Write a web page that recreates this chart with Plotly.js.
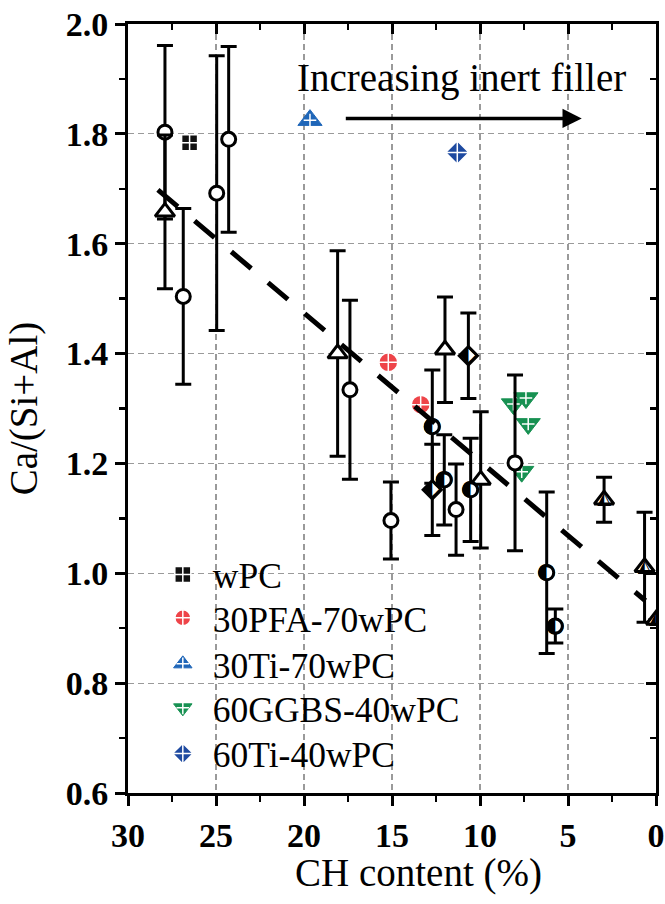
<!DOCTYPE html>
<html>
<head>
<meta charset="utf-8">
<script src="https://cdn.plot.ly/plotly-3.0.1.min.js"></script>
<style>html,body{margin:0;padding:0;background:#fff;}#chart{width:665px;height:904px;}</style>
</head>
<body>
<div id="chart"></div>
<script>
// ---------- data ----------
// Literature data (black, not in legend)
const openCircleX   = [27.9, 24.96, 24.28, 26.86, 17.39, 15.06, 11.36, 8.01];
const openCircleY   = [1.803, 1.692, 1.790, 1.504, 1.334, 1.096, 1.116, 1.201];
const openCircleErr = [0.158, 0.25, 0.169, 0.16, 0.163, 0.07, 0.083, 0.16];

const openTriX   = [27.9, 18.09, 11.99, 9.96];
const openTriY   = [1.658, 1.40, 1.407, 1.170];
const openTriErr = [0.14, 0.187, 0.096, 0.124];

const halfCircleX   = [12.71, 12.03, 10.53, 6.21, 5.72];
const halfCircleY   = [1.267, 1.170, 1.152, 1.001, 0.904];
const halfCircleErr = [0.103, 0.082, 0.094, 0.147, 0.031];

const halfDiamondX   = [12.71, 10.66];
const halfDiamondY   = [1.152, 1.396];
const halfDiamondErr = [0.083, 0.078];

const halfTriX   = [2.95, 0.65, 0.0];
const halfTriY   = [1.134, 1.011, 0.915];
const halfTriErr = [0.041, 0.1, 0];

// This work (legend series)
const seriesNames = ['wPC', '30PFA-70wPC', '30Ti-70wPC', '60GGBS-40wPC', '60Ti-40wPC'];
const wpcX = [26.5];               const wpcY = [1.784];
const pfaX = [15.21, 13.37];       const pfaY = [1.384, 1.307];
const ti30X = [19.66];             const ti30Y = [1.825];
const ggbsX = [8.1, 7.39, 7.26, 7.63]; const ggbsY = [1.308, 1.319, 1.272, 1.185];
const ti60X = [11.29];             const ti60Y = [1.766];

// Trend line
const trendX = [28.3, 0.6];
const trendY = [1.698, 0.950];

// Annotation
const noteText = 'Increasing inert filler';
const noteX = 11.05, noteY = 1.902;
const arrowTailX = 17.71, arrowHeadX = 4.22, arrowY = 1.828;

// Axis ticks / titles
const xTickVals = [30, 25, 20, 15, 10, 5, 0];
const yTickVals = [0.6, 0.8, 1.0, 1.2, 1.4, 1.6, 1.8, 2.0];
const xTitle = 'CH content (%)';
const yTitle = 'Ca/(Si+Al)';

// ---------- styling ----------
const SERIF = 'Liberation Serif, Times New Roman, serif';
const BLACK = '#000000';
const C_RED = '#EE4449', C_BLUE = '#1F66B8', C_GREEN = '#179152', C_NAVY = '#1E4AA0';

function err(arr) {
  return {type: 'data', array: arr, visible: true, color: BLACK, thickness: 3, width: 8};
}
function glyphs(n, g) { return new Array(n).fill(g); }

const traces = [];

// Legend series (one legend box per row for exact row placement)
traces.push({x: wpcX, y: wpcY, name: seriesNames[0], legend: 'legend', mode: 'markers', type: 'scatter',
  marker: {symbol: 'square-cross', size: 16, color: '#111111', line: {color: '#ffffff', width: 1.5}}});
traces.push({x: pfaX, y: pfaY, name: seriesNames[1], legend: 'legend2', mode: 'markers', type: 'scatter',
  marker: {symbol: 'circle-cross', size: 19, color: C_RED, line: {color: '#ffffff', width: 1.5}}});
traces.push({x: ti30X, y: ti30Y, name: seriesNames[2], legend: 'legend3', mode: 'markers', type: 'scatter',
  marker: {symbol: 'triangle-up', size: 21, color: C_BLUE, line: {color: C_BLUE, width: 1}}});
traces.push({x: ggbsX, y: ggbsY, name: seriesNames[3], legend: 'legend4', mode: 'markers', type: 'scatter',
  marker: {symbol: 'triangle-down', size: 21, color: C_GREEN, line: {color: C_GREEN, width: 1}}});
traces.push({x: ti60X, y: ti60Y, name: seriesNames[4], legend: 'legend5', mode: 'markers', type: 'scatter',
  marker: {symbol: 'diamond-cross', size: 18, color: C_NAVY, line: {color: '#ffffff', width: 1.5}}});
// white crosses on triangles (their legend symbols sit on top of the triangle rows)
traces.push({x: ti30X, y: ti30Y, name: ' ', legend: 'legend6', mode: 'markers', type: 'scatter', hoverinfo: 'skip',
  marker: {symbol: 'cross-thin', size: 9, color: '#ffffff', line: {color: '#ffffff', width: 1.5}}});
traces.push({x: ggbsX, y: ggbsY, name: ' ', legend: 'legend7', mode: 'markers', type: 'scatter', hoverinfo: 'skip',
  marker: {symbol: 'cross-thin', size: 9, color: '#ffffff', line: {color: '#ffffff', width: 1.5}}});

// Black literature series: open markers
traces.push({x: openCircleX, y: openCircleY, error_y: err(openCircleErr), mode: 'markers', type: 'scatter', showlegend: false,
  marker: {symbol: 'circle', size: 14, color: '#ffffff', line: {color: BLACK, width: 3}}});
traces.push({x: openTriX, y: openTriY, error_y: err(openTriErr), mode: 'markers', type: 'scatter', showlegend: false,
  marker: {symbol: 'triangle-up', size: 17, color: '#ffffff', line: {color: BLACK, width: 3}}});

// Half-filled markers: white body + error bars, half-black glyph, thick outline on top
const halfSets = [
  {x: halfCircleX, y: halfCircleY, e: halfCircleErr, sym: 'circle', size: 14, g: '\u25D0', gs: 22},
  {x: halfDiamondX, y: halfDiamondY, e: halfDiamondErr, sym: 'diamond', size: 14, g: '\u2B16', gs: 22},
  {x: halfTriX, y: halfTriY, e: halfTriErr, sym: 'triangle-up', size: 17, g: '\u25ED', gs: 18}
];
halfSets.forEach(s => {
  traces.push({x: s.x, y: s.y, error_y: err(s.e), mode: 'markers+text', type: 'scatter', showlegend: false,
    text: glyphs(s.x.length, s.g), textposition: 'middle center',
    textfont: {family: 'DejaVu Sans', size: s.gs, color: BLACK},
    marker: {symbol: s.sym, size: s.size, color: '#ffffff', line: {color: BLACK, width: 0}}});
  traces.push({x: s.x, y: s.y, mode: 'markers', type: 'scatter', showlegend: false, hoverinfo: 'skip',
    marker: {symbol: s.sym + '-open', size: s.size, color: BLACK, line: {color: BLACK, width: 3}}});
});

// Trend line
traces.push({x: trendX, y: trendY, mode: 'lines', type: 'scatter', showlegend: false, hoverinfo: 'skip',
  line: {color: BLACK, width: 5, dash: '26px,22px'}});

// dummy trace for mirrored axes
traces.push({x: [], y: [], xaxis: 'x2', yaxis: 'y2', type: 'scatter', mode: 'markers', showlegend: false, hoverinfo: 'skip'});

const tickFont = {family: SERIF, size: 34, color: BLACK, weight: 'bold'};
const titleFont = {family: SERIF, size: 39, color: BLACK};
const gridStyle = {showgrid: true, gridcolor: '#9a9a9a', gridwidth: 1.2, griddash: '6px,4px'};

// legend rows (paper y of each row centre)
const legendRowY = [0.2835, 0.2272, 0.1674, 0.1102, 0.0507];
function legendBox(yc) {
  return {x: 0.047, y: yc, xanchor: 'left', yanchor: 'middle',
    bgcolor: 'rgba(0,0,0,0)', borderwidth: 0,
    font: {family: SERIF, size: 35.5, color: BLACK}, itemwidth: 50, tracegroupgap: 0};
}

const layout = {
  width: 665, height: 904,
  margin: {l: 128, r: 9, t: 24, b: 111, pad: 0},
  paper_bgcolor: '#ffffff', plot_bgcolor: '#ffffff',
  showlegend: true,
  xaxis: Object.assign({
    range: [30, 0], autorange: false, tickvals: xTickVals, ticktext: xTickVals.map(String),
    ticks: 'outside', ticklen: 10, tickwidth: 3, tickcolor: BLACK,
    minor: {ticks: 'outside', ticklen: 6, tickwidth: 2.5, tickcolor: BLACK, dtick: 2.5, tick0: 0, showgrid: false},
    showline: true, linewidth: 3, linecolor: BLACK, zeroline: false,
    tickfont: tickFont, automargin: false
  }, gridStyle),
  yaxis: Object.assign({
    range: [0.6, 2.0], autorange: false, tickvals: yTickVals, ticktext: yTickVals.map(v => v.toFixed(1)),
    ticks: 'outside', ticklen: 10, tickwidth: 3, tickcolor: BLACK,
    minor: {ticks: 'outside', ticklen: 6, tickwidth: 2.5, tickcolor: BLACK, dtick: 0.1, tick0: 0, showgrid: false},
    showline: true, linewidth: 3, linecolor: BLACK, zeroline: false,
    tickfont: tickFont, automargin: false,
    title: {text: yTitle, font: titleFont, standoff: 17}
  }, gridStyle),
  xaxis2: {
    overlaying: 'x', side: 'top', anchor: 'y2', range: [30, 0], autorange: false,
    tickvals: xTickVals, showticklabels: false,
    ticks: 'inside', ticklen: 10, tickwidth: 3, tickcolor: BLACK,
    minor: {ticks: 'inside', ticklen: 6, tickwidth: 2.5, tickcolor: BLACK, dtick: 2.5, tick0: 0, showgrid: false},
    showline: true, linewidth: 3, linecolor: BLACK, showgrid: false, zeroline: false
  },
  yaxis2: {
    overlaying: 'y', side: 'right', anchor: 'x2', range: [0.6, 2.0], autorange: false,
    tickvals: yTickVals, showticklabels: false,
    ticks: 'inside', ticklen: 10, tickwidth: 3, tickcolor: BLACK,
    minor: {ticks: 'inside', ticklen: 6, tickwidth: 2.5, tickcolor: BLACK, dtick: 0.1, tick0: 0, showgrid: false},
    showline: true, linewidth: 3, linecolor: BLACK, showgrid: false, zeroline: false
  },
  legend: legendBox(legendRowY[0]),
  legend2: legendBox(legendRowY[1]),
  legend3: legendBox(legendRowY[2]),
  legend4: legendBox(legendRowY[3]),
  legend5: legendBox(legendRowY[4]),
  legend6: legendBox(legendRowY[2]),
  legend7: legendBox(legendRowY[3]),
  annotations: [
    {x: 0.55, y: -0.104, xref: 'paper', yref: 'paper', text: xTitle, showarrow: false,
     font: titleFont, xanchor: 'center', yanchor: 'middle'},
    {x: noteX, y: noteY, xref: 'x', yref: 'y', text: noteText, showarrow: false,
     font: {family: SERIF, size: 39, color: BLACK}, xanchor: 'center', yanchor: 'middle'},
    {x: arrowHeadX, y: arrowY, ax: arrowTailX, ay: arrowY, xref: 'x', yref: 'y', axref: 'x', ayref: 'y',
     text: '', showarrow: true, arrowhead: 2, arrowsize: 1.1, arrowwidth: 3.5, arrowcolor: BLACK, standoff: 0}
  ]
};

Plotly.newPlot('chart', traces, layout, {displayModeBar: false, staticPlot: true});
</script>
</body>
</html>
